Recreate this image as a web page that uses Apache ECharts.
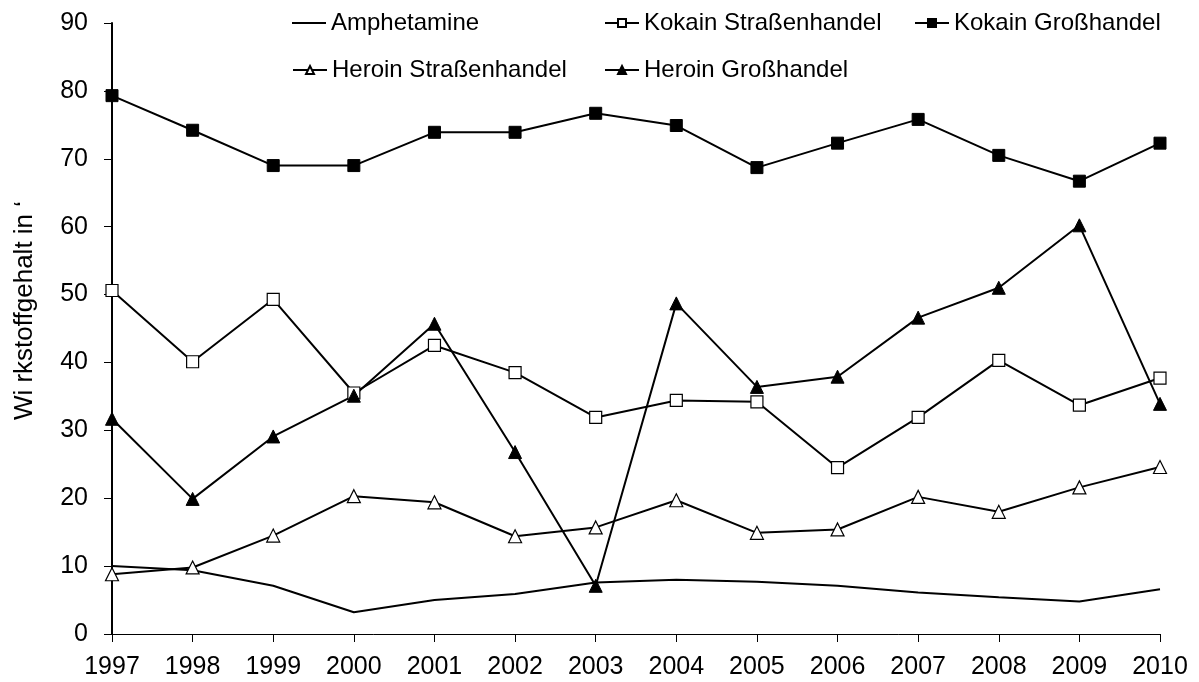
<!DOCTYPE html>
<html>
<head>
<meta charset="utf-8">
<script src="https://cdn.jsdelivr.net/npm/echarts@6/dist/echarts.min.js"></script>
<style>html,body{margin:0;padding:0;background:#fff}#c{width:1199px;height:682px}</style>
</head>
<body>
<div id="c"></div>
<script>
const years = ['1997','1998','1999','2000','2001','2002','2003','2004','2005','2006','2007','2008','2009','2010'];
const amphetamine = [10.0, 9.4, 7.1, 3.2, 5.0, 5.9, 7.6, 8.0, 7.7, 7.1, 6.1, 5.4, 4.8, 6.6];
const kokainStrasse = [50.6, 40.1, 49.3, 35.5, 42.5, 38.5, 31.9, 34.4, 34.2, 24.5, 31.9, 40.3, 33.7, 37.7];
const kokainGross = [79.3, 74.2, 69.0, 69.0, 73.9, 73.9, 76.7, 74.9, 68.7, 72.3, 75.8, 70.5, 66.7, 72.3];
const heroinStrasse = [8.8, 9.8, 14.5, 20.3, 19.4, 14.4, 15.7, 19.7, 14.9, 15.4, 20.2, 18.0, 21.6, 24.6];
const heroinGross = [31.7, 19.9, 29.1, 35.1, 45.7, 26.8, 7.1, 48.7, 36.4, 37.9, 46.6, 51.0, 60.2, 33.9];
const yTicks = [0, 10, 20, 30, 40, 50, 60, 70, 80, 90];
const names = ['Amphetamine', 'Kokain Straßenhandel', 'Kokain Großhandel', 'Heroin Straßenhandel', 'Heroin Großhandel'];
const yName = 'Wi rkstoffgehalt in ‘';

const font = 'Liberation Sans, Arial, sans-serif';
const chart = echarts.init(document.getElementById('c'), null, {renderer: 'canvas'});

function legend(item, left, top, extra) {
  return Object.assign({
    data: [item], left: left, top: top, itemWidth: 34, itemHeight: 10, itemGap: 0,
    padding: 0, selectedMode: false,
    textStyle: {fontFamily: font, fontSize: 24, color: '#000'}
  }, extra || {});
}

const base = {type: 'line', lineStyle: {color: '#000', width: 2}, itemStyle: {color: '#000', borderColor: '#000', borderWidth: 1}, symbolSize: 12, animation: false};

chart.setOption({
  backgroundColor: '#fff',
  animation: false,
  grid: {left: 112, right: 39, top: 23, bottom: 48},
  legend: [
    legend({name: names[0], icon: 'path://M0,0 L34,0 L34,2 L0,2 Z'}, 292, 11, {itemStyle: {color: '#000', borderWidth: 0}}),
    legend(names[1], 604, 11),
    legend(names[2], 914, 11),
    legend(names[3], 292, 58),
    legend(names[4], 604, 58)
  ],
  xAxis: {
    type: 'category', data: years, boundaryGap: false,
    axisLine: {lineStyle: {color: '#000', width: 1}},
    axisTick: {show: true, length: 8, alignWithLabel: true, lineStyle: {color: '#000'}},
    axisLabel: {fontFamily: font, fontSize: 25, color: '#000', margin: 21, interval: 0},
    splitLine: {show: false}
  },
  yAxis: {
    type: 'value', min: yTicks[0], max: yTicks[yTicks.length - 1], interval: 10,
    name: yName, nameLocation: 'middle', nameGap: 74,
    nameTextStyle: {fontFamily: font, fontSize: 26, color: '#000', padding: [0, 0, 0, 36]},
    axisLine: {show: true, lineStyle: {color: '#000', width: 2}},
    axisTick: {show: true, length: 8, lineStyle: {color: '#000'}},
    axisLabel: {fontFamily: font, fontSize: 25, color: '#000', margin: 24},
    splitLine: {show: false}
  },
  series: [
    Object.assign({}, base, {name: names[0], data: amphetamine, symbol: 'none', showSymbol: false}),
    Object.assign({}, base, {name: names[1], data: kokainStrasse, symbol: 'rect', itemStyle: {color: '#fff', borderColor: '#000', borderWidth: 1.2}}),
    Object.assign({}, base, {name: names[2], data: kokainGross, symbol: 'rect'}),
    Object.assign({}, base, {name: names[3], data: heroinStrasse, symbol: 'triangle', symbolSize: 13, itemStyle: {color: '#fff', borderColor: '#000', borderWidth: 1.2}}),
    Object.assign({}, base, {name: names[4], data: heroinGross, symbol: 'triangle', symbolSize: 13})
  ]
});
</script>
</body>
</html>
